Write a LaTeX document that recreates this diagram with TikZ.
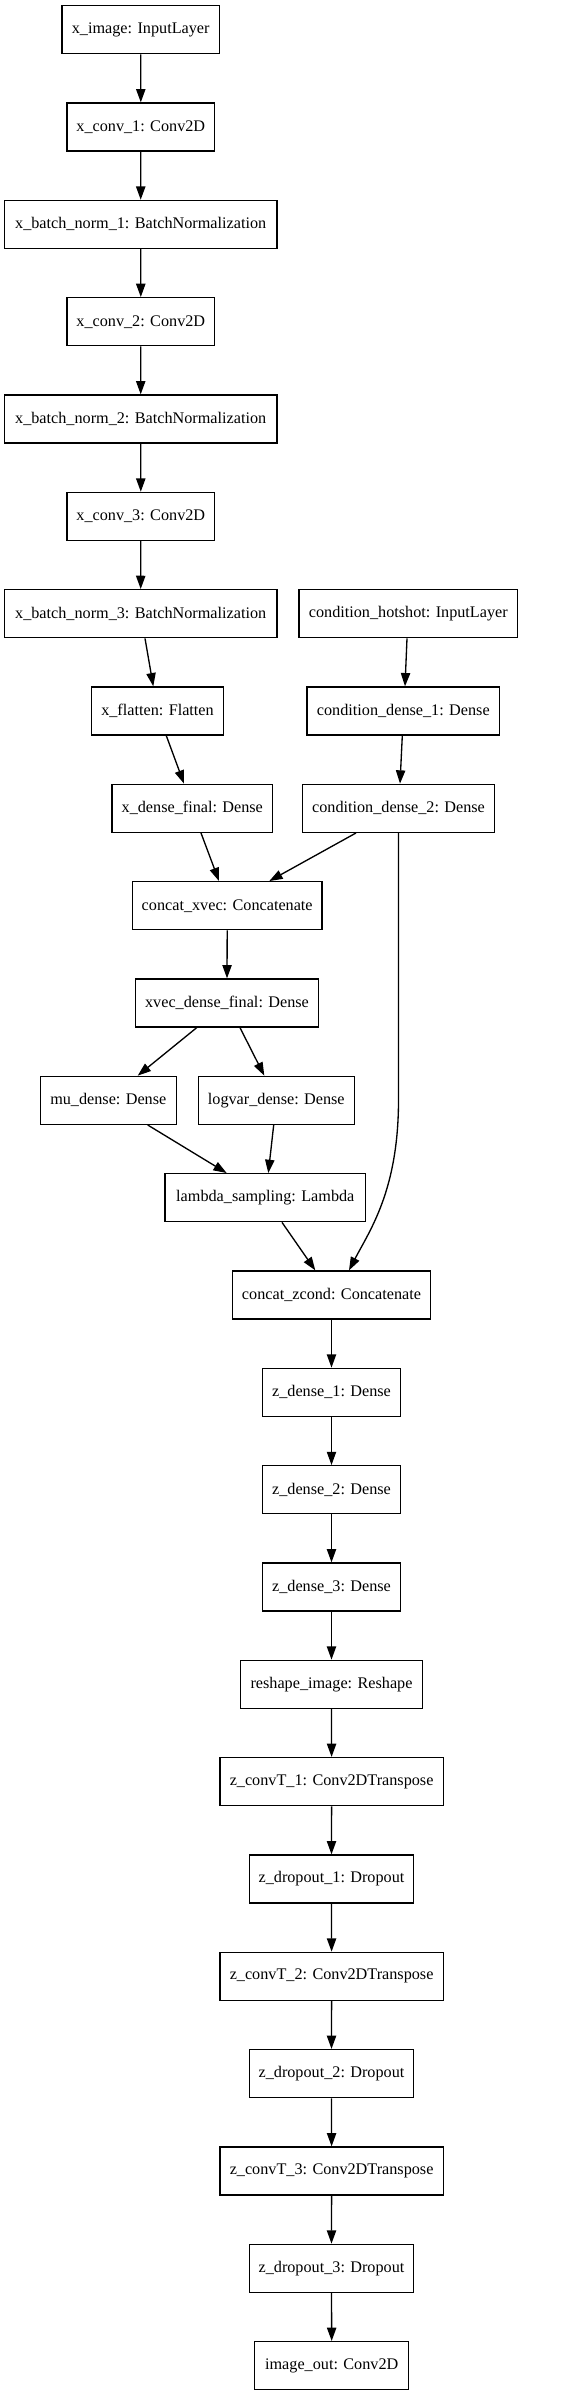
\documentclass[tikz,border=0pt]{standalone}
\usepackage{fontspec}
\setmainfont{Liberation Serif}
\usetikzlibrary{arrows.meta}
\begin{document}
\begin{tikzpicture}[x=1pt,y=-1pt,
  lay/.style={draw=black, line width=1.33pt, minimum height=48pt, inner sep=0pt,
    font=\fontsize{16.2}{20}\selectfont, anchor=center},
  arr/.style={draw=black, line width=1.33pt, -{Triangle[length=13.3pt,width=9.3pt]}}]
\useasboundingbox[fill=white] (0,0) rectangle (581,2396);
% left column
\node[lay, minimum width=157.3pt] (ximage) at (140.7,29.7) {x\_image: InputLayer};
\node[lay, minimum width=147.7pt] (xconv1) at (140.8,127.0) {x\_conv\_1: Conv2D};
\node[lay, minimum width=272.7pt] (xbn1) at (140.7,224.4) {x\_batch\_norm\_1: BatchNormalization};
\node[lay, minimum width=147.7pt] (xconv2) at (140.8,321.7) {x\_conv\_2: Conv2D};
\node[lay, minimum width=272.7pt] (xbn2) at (140.7,419.0) {x\_batch\_norm\_2: BatchNormalization};
\node[lay, minimum width=147.7pt] (xconv3) at (140.8,516.4) {x\_conv\_3: Conv2D};
\node[lay, minimum width=272.7pt] (xbn3) at (140.7,613.7) {x\_batch\_norm\_3: BatchNormalization};
\node[lay, minimum width=218.7pt] (condhot) at (408.3,613.7) {condition\_hotshot: InputLayer};
\node[lay, minimum width=132.4pt] (xflat) at (157.5,711.0) {x\_flatten: Flatten};
\node[lay, minimum width=192.7pt] (cd1) at (403.3,711.0) {condition\_dense\_1: Dense};
\node[lay, minimum width=160.7pt] (xdf) at (192.3,808.3) {x\_dense\_final: Dense};
\node[lay, minimum width=192.4pt] (cd2) at (398.5,808.3) {condition\_dense\_2: Dense};
\node[lay, minimum width=189.7pt] (concatx) at (227.2,905.7) {concat\_xvec: Concatenate};
\node[lay, minimum width=182.6pt] (xvec) at (227.0,1003.0) {xvec\_dense\_final: Dense};
\node[lay, minimum width=136.0pt] (mu) at (108.3,1100.3) {mu\_dense: Dense};
\node[lay, minimum width=156.0pt] (logvar) at (276.3,1100.3) {logvar\_dense: Dense};
\node[lay, minimum width=200.7pt] (lambda) at (265.3,1197.7) {lambda\_sampling: Lambda};
\node[lay, minimum width=198.4pt] (concatz) at (331.5,1295.0) {concat\_zcond: Concatenate};
\node[lay, minimum width=138.4pt] (zd1) at (331.5,1392.3) {z\_dense\_1: Dense};
\node[lay, minimum width=138.4pt] (zd2) at (331.5,1489.7) {z\_dense\_2: Dense};
\node[lay, minimum width=138.4pt] (zd3) at (331.5,1587.0) {z\_dense\_3: Dense};
\node[lay, minimum width=182.4pt] (reshape) at (331.5,1684.3) {reshape\_image: Reshape};
\node[lay, minimum width=223.3pt] (zct1) at (331.6,1781.6) {z\_convT\_1: Conv2DTranspose};
\node[lay, minimum width=164.4pt] (zdo1) at (331.5,1879.0) {z\_dropout\_1: Dropout};
\node[lay, minimum width=223.3pt] (zct2) at (331.6,1976.3) {z\_convT\_2: Conv2DTranspose};
\node[lay, minimum width=164.4pt] (zdo2) at (331.5,2073.6) {z\_dropout\_2: Dropout};
\node[lay, minimum width=223.3pt] (zct3) at (331.6,2171.0) {z\_convT\_3: Conv2DTranspose};
\node[lay, minimum width=164.4pt] (zdo3) at (331.5,2268.3) {z\_dropout\_3: Dropout};
\node[lay, minimum width=154.0pt] (imgout) at (331.7,2365.6) {image\_out: Conv2D};
% edges
\draw[arr] (ximage.south) -- (xconv1.north);
\draw[arr] (xconv1.south) -- (xbn1.north);
\draw[arr] (xbn1.south) -- (xconv2.north);
\draw[arr] (xconv2.south) -- (xbn2.north);
\draw[arr] (xbn2.south) -- (xconv3.north);
\draw[arr] (xconv3.south) -- (xbn3.north);
\draw[arr] ([xshift=4.3pt]xbn3.south) -- ([xshift=-4.2pt]xflat.north);
\draw[arr] ([xshift=-1.3pt]condhot.south) -- ([xshift=1.7pt]cd1.north);
\draw[arr] ([xshift=8.8pt]xflat.south) -- ([xshift=-8.3pt]xdf.north);
\draw[arr] ([xshift=-1pt]cd1.south) -- ([xshift=1.5pt]cd2.north);
\draw[arr] ([xshift=8.7pt]xdf.south) -- ([xshift=-8.2pt]concatx.north);
\draw[arr] ([xshift=-42.5pt]cd2.south) -- ([xshift=42.1pt]concatx.north);
\draw[arr] (concatx.south) -- (xvec.north);
\draw[arr] ([xshift=-30.3pt]xvec.south) -- ([xshift=29.4pt]mu.north);
\draw[arr] ([xshift=13pt]xvec.south) -- ([xshift=-12pt]logvar.north);
\draw[arr] ([xshift=39.4pt]mu.south) -- ([xshift=-38.6pt]lambda.north);
\draw[arr] ([xshift=-2.6pt]logvar.south) -- ([xshift=3pt]lambda.north);
\draw[arr] ([xshift=16.7pt]lambda.south) -- ([xshift=-16.2pt]concatz.north);
\draw[arr] (cd2.south) -- (cd2.south |- 0,1100) .. controls (cd2.south |- 0,1190) and (370,1230) .. ([xshift=17.5pt]concatz.north);
\draw[arr] (concatz.south) -- (zd1.north);
\draw[arr] (zd1.south) -- (zd2.north);
\draw[arr] (zd2.south) -- (zd3.north);
\draw[arr] (zd3.south) -- (reshape.north);
\draw[arr] (reshape.south) -- (zct1.north);
\draw[arr] (zct1.south) -- (zdo1.north);
\draw[arr] (zdo1.south) -- (zct2.north);
\draw[arr] (zct2.south) -- (zdo2.north);
\draw[arr] (zdo2.south) -- (zct3.north);
\draw[arr] (zct3.south) -- (zdo3.north);
\draw[arr] (zdo3.south) -- (imgout.north);
\end{tikzpicture}
\end{document}
